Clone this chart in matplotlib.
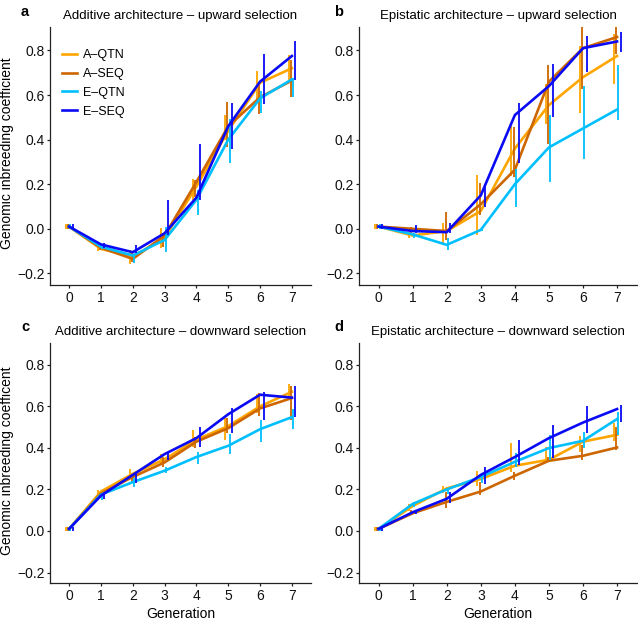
import matplotlib
matplotlib.use('Agg')
import matplotlib.pyplot as plt
import numpy as np

plt.rcParams['font.family'] = ['Liberation Sans', 'DejaVu Sans']

generations = [0, 1, 2, 3, 4, 5, 6, 7]
series_names = ['A–QTN', 'A–SEQ', 'E–QTN', 'E–SEQ']
series_colors = ['#FFA500', '#CD6600', '#00BFFF', '#0A0AF5']
dodge = [-0.1, -0.035, 0.04, 0.11]

# panel a: additive architecture, upward selection (rows follow series_names)
add_up_mean = [[0.01, -0.09, -0.125, -0.04, 0.19, 0.44, 0.655, 0.72],
               [0.01, -0.085, -0.135, -0.03, 0.21, 0.46, 0.59, 0.665],
               [0.01, -0.08, -0.12, -0.05, 0.13, 0.40, 0.585, 0.67],
               [0.01, -0.07, -0.105, -0.02, 0.14, 0.46, 0.66, 0.775]]
add_up_lo = [[0.0, -0.098, -0.16, -0.088, 0.128, 0.397, 0.569, 0.666],
             [0.0, -0.095, -0.148, -0.08, 0.143, 0.367, 0.516, 0.591],
             [0.0, -0.09, -0.155, -0.106, 0.061, 0.297, 0.52, 0.591],
             [0.0, -0.088, -0.11, -0.03, 0.128, 0.357, 0.561, 0.666]]
add_up_hi = [[0.02, -0.078, -0.095, 0.004, 0.222, 0.509, 0.707, 0.778],
             [0.02, -0.075, -0.1, -0.02, 0.218, 0.569, 0.643, 0.755],
             [0.02, -0.07, -0.118, 0.01, 0.173, 0.494, 0.62, 0.678],
             [0.02, -0.065, -0.073, 0.128, 0.379, 0.566, 0.785, 0.84]]

# panel b: epistatic architecture, upward selection
epi_up_mean = [[0.01, -0.03, -0.01, 0.08, 0.36, 0.555, 0.68, 0.775],
               [0.01, 0.0, -0.01, 0.11, 0.265, 0.66, 0.81, 0.86],
               [0.01, -0.025, -0.072, -0.005, 0.2, 0.365, 0.45, 0.535],
               [0.01, -0.01, -0.015, 0.15, 0.51, 0.64, 0.81, 0.84]]
epi_up_lo = [[0.0, -0.039, -0.063, -0.028, 0.237, 0.472, 0.52, 0.651],
             [0.0, -0.02, -0.048, 0.061, 0.233, 0.382, 0.628, 0.785],
             [0.0, -0.043, -0.096, -0.012, 0.1, 0.21, 0.315, 0.487],
             [0.0, -0.02, -0.018, 0.1, 0.293, 0.5, 0.703, 0.793]]
epi_up_hi = [[0.02, -0.016, 0.027, 0.243, 0.46, 0.651, 0.822, 0.875],
             [0.02, 0.009, 0.075, 0.206, 0.457, 0.733, 0.904, 0.907],
             [0.02, -0.02, -0.039, 0.0, 0.27, 0.509, 0.639, 0.733],
             [0.02, 0.016, 0.027, 0.2, 0.564, 0.74, 0.863, 0.882]]

# panel c: additive architecture, downward selection
add_down_mean = [[0.01, 0.19, 0.275, 0.345, 0.44, 0.505, 0.60, 0.67],
                 [0.01, 0.18, 0.26, 0.33, 0.43, 0.495, 0.59, 0.64],
                 [0.01, 0.175, 0.235, 0.29, 0.356, 0.41, 0.49, 0.548],
                 [0.01, 0.17, 0.27, 0.37, 0.447, 0.562, 0.656, 0.642]]
add_down_lo = [[0.0, 0.165, 0.254, 0.326, 0.406, 0.438, 0.567, 0.647],
               [0.0, 0.157, 0.23, 0.31, 0.398, 0.474, 0.554, 0.535],
               [0.0, 0.15, 0.213, 0.278, 0.323, 0.371, 0.429, 0.491],
               [0.0, 0.152, 0.233, 0.342, 0.406, 0.474, 0.535, 0.547]]
add_down_hi = [[0.02, 0.197, 0.297, 0.369, 0.486, 0.55, 0.658, 0.708],
               [0.02, 0.185, 0.27, 0.358, 0.454, 0.543, 0.663, 0.698],
               [0.02, 0.18, 0.254, 0.31, 0.382, 0.467, 0.535, 0.587],
               [0.02, 0.18, 0.278, 0.382, 0.5, 0.592, 0.671, 0.698]]

# panel d: epistatic architecture, downward selection
epi_down_mean = [[0.01, 0.12, 0.205, 0.25, 0.314, 0.343, 0.43, 0.463],
                 [0.01, 0.085, 0.14, 0.19, 0.266, 0.338, 0.362, 0.402],
                 [0.01, 0.13, 0.2, 0.26, 0.333, 0.399, 0.434, 0.539],
                 [0.01, 0.09, 0.155, 0.27, 0.356, 0.447, 0.522, 0.587]]
epi_down_lo = [[0.0, 0.098, 0.185, 0.217, 0.286, 0.334, 0.382, 0.431],
               [0.0, 0.085, 0.109, 0.173, 0.246, 0.334, 0.342, 0.39],
               [0.0, 0.114, 0.18, 0.23, 0.31, 0.342, 0.398, 0.463],
               [0.0, 0.082, 0.136, 0.226, 0.318, 0.35, 0.474, 0.527]]
epi_down_hi = [[0.02, 0.13, 0.217, 0.29, 0.422, 0.406, 0.457, 0.519],
               [0.02, 0.1, 0.19, 0.238, 0.286, 0.358, 0.414, 0.502],
               [0.02, 0.14, 0.205, 0.27, 0.374, 0.462, 0.478, 0.575],
               [0.02, 0.1, 0.19, 0.31, 0.438, 0.51, 0.602, 0.608]]

panel_titles = ['Additive architecture – upward selection',
                'Epistatic architecture – upward selection',
                'Additive architecture – downward selection',
                'Epistatic architecture – downward selection']
panel_letters = ['a', 'b', 'c', 'd']
ylabels = ['Genomic inbreeding coefficient', None,
           'Genomic inbreeding coefficent', None]
yticks = [-0.2, 0.0, 0.2, 0.4, 0.6, 0.8]

panels = [(add_up_mean, add_up_lo, add_up_hi),
          (epi_up_mean, epi_up_lo, epi_up_hi),
          (add_down_mean, add_down_lo, add_down_hi),
          (epi_down_mean, epi_down_lo, epi_down_hi)]

W, H = 638.0, 623.0
# axes boxes in pixels: left, right, top, bottom
boxes = [(50, 311, 27, 285), (359, 637.5, 27, 285),
         (50, 311, 343, 583.3), (359, 637.5, 343, 583.3)]
xlims = [(-0.6, 7.6), (-0.575, 7.6), (-0.6, 7.6), (-0.575, 7.6)]

fig = plt.figure(figsize=(6.38, 6.23), dpi=100)
x = np.array(generations, dtype=float)

for p in range(4):
    l, r, t, b = boxes[p]
    axw, axh = r - l, b - t
    ax = fig.add_axes([l / W, 1 - b / H, axw / W, axh / H])
    mean, lo, hi = panels[p]
    for s in range(4):
        ax.plot(x, mean[s], color=series_colors[s], lw=1.9,
                label=series_names[s], solid_joinstyle='miter', zorder=2 + s)
        ax.vlines(x + dodge[s], lo[s], hi[s], color=series_colors[s],
                  lw=1.3, zorder=2 + s)
    ax.set_xlim(xlims[p])
    ax.set_ylim(-0.252, 0.905)
    ax.set_xticks(generations)
    ax.set_yticks(yticks)
    ax.set_yticklabels(['%.1f' % v if v >= 0 else '\u2212%.1f' % -v for v in yticks])
    for side in ['top', 'right']:
        ax.spines[side].set_visible(False)
    for side in ['left', 'bottom']:
        ax.spines[side].set_linewidth(0.9)
        ax.spines[side].set_color('#222222')
    ax.tick_params(axis='both', length=2.5, width=0.9, color='#222222',
                   labelsize=10, labelcolor='#111111', pad=1.5)
    ax.set_title(panel_titles[p], fontsize=9.5, pad=6)
    # panel letter: pixel position of its left edge and baseline
    lx = 21 if p % 2 == 0 else 334
    ly = 16 if p < 2 else 330.5
    ax.text((lx - l) / axw, 1 + (t - ly) / axh, panel_letters[p],
            transform=ax.transAxes, fontsize=10.5, fontweight='bold',
            ha='left', va='baseline')
    if ylabels[p]:
        ax.set_ylabel(ylabels[p], fontsize=10)
        ax.yaxis.set_label_coords((14 - l) / axw, 0.51)
    if p >= 2:
        ax.set_xlabel('Generation', fontsize=10, labelpad=3)
    if p == 0:
        ax.legend(loc='upper left', bbox_to_anchor=(0.025, 0.934), frameon=False,
                  fontsize=9, handlelength=1.2, handletextpad=0.5,
                  labelspacing=0.55, borderaxespad=0)

plt.savefig('out.png', dpi=100)
